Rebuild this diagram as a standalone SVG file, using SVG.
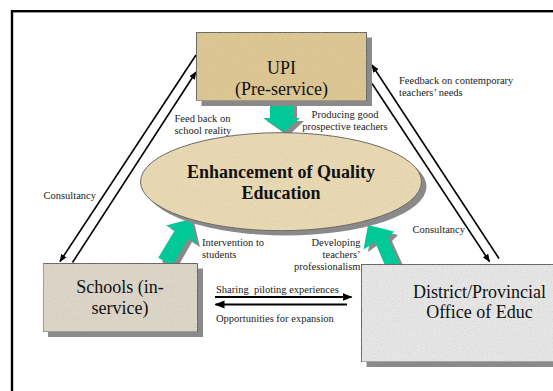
<svg xmlns="http://www.w3.org/2000/svg" width="553" height="391" viewBox="0 0 553 391">
<style>
.box{stroke:#666;stroke-width:1}
.shadow{fill:#8a8a8a}
.big{font-family:"Liberation Serif",serif;font-size:18px;fill:#111;text-anchor:middle}
.bold{font-weight:bold}
.lbl{font-family:"Liberation Serif",serif;font-size:10.5px;fill:#222}
.ln{stroke:#000;stroke-width:1.6;fill:none}
.harrow{stroke:#000;stroke-width:2;fill:none}
.green{fill:#00c896}
</style>
<defs>
<marker id="ah" viewBox="0 0 10 10" refX="9" refY="5" markerWidth="5" markerHeight="5" orient="auto" markerUnits="strokeWidth">
<path d="M0,1 L10,5 L0,9 z" fill="#000"/>
</marker>
<filter id="grain" x="0" y="0" width="100%" height="100%">
<feTurbulence type="fractalNoise" baseFrequency="0.8" numOctaves="2" seed="3" result="n"/>
<feColorMatrix in="n" type="matrix" values="0 0 0 0 0.45  0 0 0 0 0.42  0 0 0 0 0.38  0 0 0 -0.7 0.38" result="a"/>
<feComposite in="a" in2="SourceGraphic" operator="in" result="m"/>
<feMerge><feMergeNode in="SourceGraphic"/><feMergeNode in="m"/></feMerge>
</filter>
</defs>
<rect width="553" height="391" fill="#fff"/>
<rect x="12" y="11.2" width="600" height="500" fill="none" stroke="#000" stroke-width="2.4"/>

<g id="connectors">
<line class="ln" x1="196" y1="55" x2="60" y2="261.5" marker-end="url(#ah)"/>
<line class="ln" x1="72.5" y1="262.5" x2="196" y2="72" marker-end="url(#ah)"/>
<line class="ln" x1="499" y1="258.5" x2="372" y2="65" marker-end="url(#ah)"/>
<line class="ln" x1="372" y1="83.5" x2="489.5" y2="261.5" marker-end="url(#ah)"/>
<line class="harrow" x1="215" y1="297" x2="351.5" y2="297" marker-end="url(#ah)"/>
<line class="harrow" x1="347" y1="304.5" x2="215.5" y2="304.5" marker-end="url(#ah)"/>
<g id="greenArrows">
<polygon fill="#8a8a8a" points="274,104 297,104 297,121 304,121 288,136 267,121 274,121"/>
<polygon class="green" points="270,101 293,101 293,118 300,118 284,132 263,118 270,118"/>
<polygon fill="#8a8a8a" points="194,222 200,247 192,242 176,270 162,262 178,234 170,228"/>
<polygon class="green" points="191,219 197,244 188.5,238.5 172,266 158.3,257.7 174.8,230.3 166,225.5"/>
<polygon fill="#8a8a8a" points="372,228 398,235 392,241 405,270 391,273 379,244 368,252"/>
<polygon class="green" points="368,225 394,231.5 388,238 401,267 387,270 375,242 363.5,249.5"/>
</g>
<text class="lbl" x="43.5" y="198.5">Consultancy</text>
<text class="lbl" x="174.5" y="121.5">Feed back on</text>
<text class="lbl" x="174.5" y="133.5">school reality</text>
<text class="lbl" x="345" y="118" text-anchor="middle">Producing good</text>
<text class="lbl" x="345" y="130" text-anchor="middle">prospective teachers</text>
<text class="lbl" x="399" y="84">Feedback on contemporary</text>
<text class="lbl" x="399" y="96">teachers’ needs</text>
<text class="lbl" x="412.5" y="233">Consultancy</text>
<text class="lbl" x="202" y="246">Intervention to</text>
<text class="lbl" x="202" y="258">students</text>
<text class="lbl" x="360.5" y="246" text-anchor="end">Developing</text>
<text class="lbl" x="360.5" y="258" text-anchor="end">teachers’</text>
<text class="lbl" x="360.5" y="270" text-anchor="end">professionalism</text>
<text class="lbl" x="216" y="293" xml:space="preserve">Sharing  piloting experiences</text>
<text class="lbl" x="216" y="322">Opportunities for expansion</text>
</g>

<g id="upi">
<rect class="shadow" x="201.5" y="37.5" width="170.5" height="68.5"/>
<rect class="box" x="196.5" y="32.5" width="170" height="68.5" fill="#ddc692" filter="url(#grain)"/>
<text class="big" x="281.5" y="74">UPI</text>
<text class="big" x="281.5" y="95">(Pre-service)</text>
</g>

<g id="quality">
<ellipse class="shadow" cx="286" cy="186.5" rx="140.5" ry="49"/>
<ellipse class="box" cx="281" cy="181.7" rx="140.5" ry="49" fill="#e9d9b2" filter="url(#grain)"/>
<text class="big bold" x="281" y="178">Enhancement of Quality</text>
<text class="big bold" x="281" y="199">Education</text>
</g>

<g id="schools">
<rect class="shadow" x="48" y="268.5" width="155" height="68.5"/>
<rect class="box" x="43" y="263.5" width="154.5" height="68.5" fill="#dcd5c8" filter="url(#grain)"/>
<text class="big" x="120" y="293">Schools (in-</text>
<text class="big" x="120" y="314">service)</text>
</g>

<g id="district">
<rect class="shadow" x="366.5" y="269.5" width="200" height="97.5"/>
<rect class="box" x="361.5" y="264.5" width="200" height="97.5" fill="#e6e6e6" filter="url(#grain)"/>
<text class="big" x="479.5" y="298">District/Provincial</text>
<text class="big" x="479.5" y="318">Office of Educ</text>
</g>
</svg>
